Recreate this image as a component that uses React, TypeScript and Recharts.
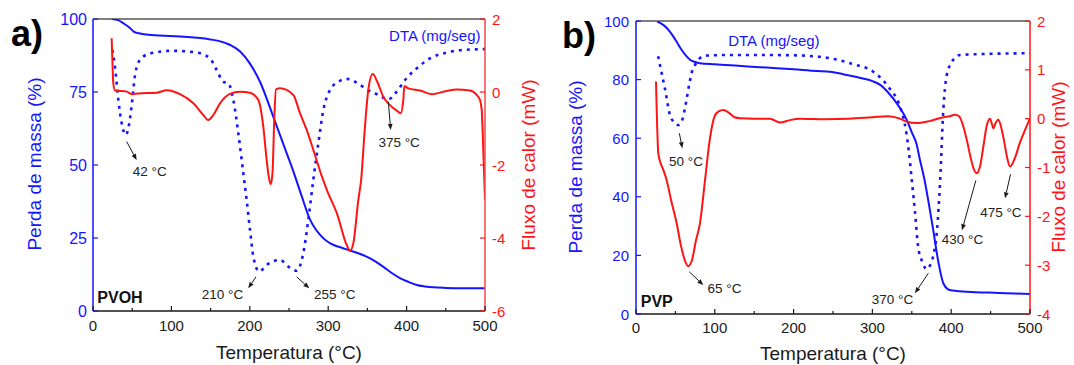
import React from 'react';
import {
  ComposedChart,
  Line,
  XAxis,
  YAxis,
  ReferenceLine,
  ReferenceDot,
} from 'recharts';

const FONT = '"Liberation Sans", Arial, Helvetica, sans-serif';
const BLUE = '#1414ff';
const RED = '#ff1414';
const INK = '#1a1a1a';

// ---------- a) PVOH ----------
const pvohTgaT = [24, 32, 39, 46, 52, 58, 65, 80, 111, 145, 160, 175, 188, 200, 213, 230, 245, 256, 266, 277, 284, 290, 298, 307, 318, 328, 340, 349, 360, 370, 381, 392, 403, 413, 424, 434, 450, 470, 500];
const pvohTgaMass = [100, 99.6, 98.5, 97.2, 95.7, 95.1, 94.8, 94.4, 94.0, 93.2, 92.5, 91.1, 88.8, 84.8, 78.5, 66.5, 55.5, 47.5, 39.5, 31.2, 28, 26, 24, 22.6, 21.6, 20.7, 19.6, 18.6, 17, 15.2, 13, 11.2, 9.9, 8.9, 8.4, 8.1, 7.9, 7.8, 7.8];

const pvohDtaT = [24.7, 28, 32.3, 36.6, 41.7, 46.3, 50.1, 53.6, 60, 72.7, 102.4, 132.3, 149.2, 157.8, 166.2, 172.6, 179, 185.4, 191.7, 196, 200.3, 204.5, 212.1, 221.5, 238.5, 249.1, 259.8, 268.2, 274.6, 281, 287.4, 293.8, 302.3, 312.9, 323.6, 336.4, 349.1, 364, 376.7, 387.4, 398, 412.9, 429.8, 451.1, 472.3, 500];
const pvohDta = [89.4, 83.7, 72.3, 64.3, 60.3, 64.3, 72.3, 80.8, 86, 88.2, 89.1, 88.5, 86.5, 82.5, 78.5, 78, 72.3, 60.8, 47.2, 38, 27.7, 18.6, 13.5, 15.8, 17.5, 15.2, 13.8, 19.8, 31.2, 44.9, 57.4, 68.8, 75.7, 78.5, 79.5, 78.2, 75.9, 74, 72.5, 75.1, 79.1, 83.1, 86.5, 88.5, 89.4, 89.7];

const pvohDscT = [23.8, 24.7, 25.9, 28, 34.4, 43, 49.4, 57.8, 81.2, 94, 111, 128, 140.7, 147, 153.5, 162, 174.7, 187.5, 200.3, 210.9, 217.2, 221.5, 224, 226.8, 229, 231.3, 233.4, 238.5, 255.5, 264, 272.6, 283, 291.7, 299, 311, 323.6, 327.8, 332, 338.4, 342, 346.9, 351.1, 356.8, 362.6, 370.3, 378.8, 387.4, 392.4, 395.8, 397.1, 402.2, 417.1, 432, 451.1, 463.8, 480.9, 489.4, 493.6, 495.8, 497.8, 500];
const pvohDsc = [1.47, 0.88, 0.24, 0.04, 0.03, 0.01, -0.06, -0.04, -0.02, 0.05, -0.06, -0.31, -0.63, -0.77, -0.63, -0.31, -0.05, 0.01, -0.02, -0.22, -0.95, -1.86, -2.3, -2.53, -2.2, -0.68, 0.07, 0.1, -0.08, -0.58, -1.04, -1.72, -2.3, -2.72, -3.32, -4.19, -4.35, -4.15, -2.96, -2.41, -0.95, 0.05, 0.49, 0.28, -0.13, -0.36, -0.51, -0.58, -0.22, 0.16, 0.1, 0.04, -0.06, 0.03, 0.07, 0.04, -0.08, -0.22, -0.49, -1.59, -2.96];

const pvohNotes = ['42 °C', '210 °C', '255 °C', '375 °C'];
const pvohNoteT = [72.3, 165.2, 308.3, 390.5];
const pvohNoteMass = [47.7, 5.5, 5.5, 57.6];
const pvohArrowFromT = [43, 207.9, 259.8, 376.7];
const pvohArrowFromMass = [58, 11.7, 11.7, 71.7];
const pvohArrowToT = [55.7, 198, 275.9, 379.7];
const pvohArrowToMass = [51.7, 7.8, 7.8, 62];

// ---------- b) PVP ----------
const pvpTgaT = [27, 35, 43, 50, 58, 64, 69, 75, 81, 100, 130, 166, 200, 230, 246, 267, 288, 300, 310, 320, 331, 338, 344, 350, 356, 360, 366, 372, 377, 384, 390, 398, 420, 460, 500];
const pvpTgaMass = [99.8, 98.6, 96.4, 93.6, 90.1, 88, 86.7, 86, 85.6, 85.2, 84.7, 84.1, 83.5, 82.9, 82.7, 81.6, 80.4, 79.5, 78.2, 75.6, 71.9, 69, 66, 62, 58, 53, 46, 37, 29, 17.3, 10.5, 8.2, 7.6, 7.2, 6.8];

const pvpDtaT = [28, 32, 37, 43, 48, 54, 59, 64, 68, 71, 76, 81, 90, 120, 160, 200, 246, 275, 301, 320, 335, 341, 346, 350, 354, 358, 363, 369, 373, 377, 382, 386, 390, 394, 401, 411, 450, 500];
const pvpDta = [88, 83, 76.5, 68, 65.5, 64.5, 66.5, 73, 79, 82.7, 85.5, 87.3, 88.2, 88.4, 88.4, 88.3, 87.3, 85.3, 82.7, 77.6, 70.8, 65, 56, 45.7, 35, 23, 18, 15.3, 16.5, 19.6, 28.7, 45.7, 69.6, 81, 86.1, 88.4, 88.8, 89];

const pvpDscT = [25.4, 28.3, 31, 34.7, 38.9, 45, 51.6, 57, 62, 66.4, 71, 76, 81.2, 87.6, 93, 100.3, 105, 110.8, 118, 125, 132, 150, 170, 182.7, 195, 208, 240, 270, 300, 320, 335, 343.5, 356, 372, 390, 398, 405, 410, 415.4, 420, 424, 428, 432.3, 437, 441, 445, 449.2, 451.5, 453.4, 456, 459.8, 463, 467, 471, 474.6, 481, 487, 494, 500];
const pvpDsc = [0.76, -0.71, -0.9, -1.05, -1.26, -1.7, -2.14, -2.6, -2.9, -3.02, -2.9, -2.5, -2.14, -1.26, -0.5, 0.07, 0.15, 0.18, 0.12, 0.03, 0.01, 0.0, 0.0, -0.08, -0.03, 0.0, -0.01, 0.0, 0.03, 0.05, 0.0, -0.06, -0.09, -0.05, 0.03, 0.05, 0.08, 0.05, -0.16, -0.45, -0.75, -1.0, -1.12, -0.95, -0.55, -0.15, 0.0, -0.1, -0.2, -0.1, -0.02, -0.15, -0.45, -0.8, -0.98, -0.8, -0.5, -0.22, 0.0];

const pvpNotes = ['50 °C', '65 °C', '370 °C', '430 °C', '475 °C'];
const pvpNoteT = [63.5, 112.3, 325.5, 414.3, 463];
const pvpNoteMass = [52, 8.8, 4.8, 25.3, 34.7];
const pvpArrowFromT = [55, 67.6, 371, 431.3, 475.3];
const pvpArrowFromMass = [61.7, 14.4, 13.9, 45.6, 47.7];
const pvpArrowToT = [58.8, 85.4, 354, 413.7, 468.3];
const pvpArrowToMass = [56.6, 9.9, 7.1, 28.6, 39.5];

const xTicks = [0, 50, 100, 150, 200, 250, 300, 350, 400, 450, 500];
const pvohMassTicks = [0, 25, 50, 75, 100];
const pvohHeatTicks = [-6, -4, -2, 0, 2];
const pvpMassTicks = [0, 20, 40, 60, 80, 100];
const pvpHeatTicks = [-4, -3, -2, -1, 0, 1, 2];

const zip = (t: number[], v: number[]) => t.map((x, i) => ({ t: x, v: v[i] }));

const MARGIN = 10; // tickMargin used only to find the axis line

const makeXTick = (gap: number) => (p: any) => {
  const axisY = p.y - MARGIN;
  const major = p.payload.value % 100 === 0;
  return (
    <g>
      <line x1={p.x} x2={p.x} y1={axisY} y2={axisY - (major ? 5 : 3)} stroke={INK} strokeWidth={1.2} />
      {major && (
        <text x={p.x} y={axisY + gap} textAnchor="middle" dominantBaseline="central" fontSize={15} fill={INK} fontFamily={FONT}>
          {p.payload.value}
        </text>
      )}
    </g>
  );
};

const makeYTick = (side: 'left' | 'right', color: string, size: number, gap: number) => (p: any) => {
  const axisX = side === 'left' ? p.x + MARGIN : p.x - MARGIN;
  const dir = side === 'left' ? 1 : -1;
  return (
    <g>
      <line x1={axisX} x2={axisX + dir * 5} y1={p.y} y2={p.y} stroke={color} strokeWidth={1.2} />
      <text
        x={axisX - dir * gap}
        y={p.y}
        textAnchor={side === 'left' ? 'end' : 'start'}
        dominantBaseline="central"
        fontSize={size}
        fill={color}
        fontFamily={FONT}
      >
        {p.payload.value}
      </text>
    </g>
  );
};

const Arrow = (p: any) => {
  const { x1, y1, x2, y2 } = p;
  const a = Math.atan2(y2 - y1, x2 - x1);
  const bx = x2 - 6 * Math.cos(a);
  const by = y2 - 6 * Math.sin(a);
  const nx = -Math.sin(a) * 2.4;
  const ny = Math.cos(a) * 2.4;
  return (
    <g>
      <line x1={x1} y1={y1} x2={bx} y2={by} stroke={INK} strokeWidth={1} />
      <polygon points={`${x2},${y2} ${bx + nx},${by + ny} ${bx - nx},${by - ny}`} fill={INK} />
    </g>
  );
};

const noteShape = (text: string, opts: any) => (p: any) => (
  <text
    x={p.cx}
    y={p.cy}
    textAnchor={opts.anchor || 'middle'}
    dominantBaseline="central"
    fontSize={opts.size}
    fontWeight={opts.bold ? 'bold' : 'normal'}
    fill={opts.color}
    fontFamily={FONT}
  >
    {text}
  </text>
);

type PanelProps = {
  width: number;
  height: number;
  top: number;
  leftW: number;
  rightW: number;
  bottomH: number;
  massTicks: number[];
  heatDomain: [number, number];
  heatTicks: number[];
  leftTickSize: number;
  leftGap: number;
  xGap: number;
  rightAxisColor: string;
  tga: { t: number; v: number }[];
  dta: { t: number; v: number }[];
  dsc: { t: number; v: number }[];
  notes: string[];
  noteT: number[];
  noteM: number[];
  fromT: number[];
  fromM: number[];
  toT: number[];
  toM: number[];
  sample: string;
  sampleT: number;
  sampleM: number;
  dtaT: number;
  dtaM: number;
};

const Panel = (c: PanelProps) => (
  <ComposedChart width={c.width} height={c.height} margin={{ top: c.top, right: 0, bottom: 0, left: 0 }}>
    <XAxis
      type="number"
      dataKey="t"
      domain={[0, 500]}
      ticks={xTicks}
      interval={0}
      allowDataOverflow
      height={c.bottomH}
      tickSize={0}
      tickMargin={MARGIN}
      tickLine={false}
      axisLine={{ stroke: INK, strokeWidth: 1.5 }}
      tick={makeXTick(c.xGap)}
    />
    <YAxis
      yAxisId="m"
      type="number"
      domain={[0, 100]}
      ticks={c.massTicks}
      interval={0}
      allowDataOverflow
      width={c.leftW}
      tickSize={0}
      tickMargin={MARGIN}
      tickLine={false}
      axisLine={{ stroke: BLUE, strokeWidth: 1.5 }}
      tick={makeYTick('left', BLUE, c.leftTickSize, c.leftGap)}
    />
    <YAxis
      yAxisId="f"
      orientation="right"
      type="number"
      domain={c.heatDomain}
      ticks={c.heatTicks}
      interval={0}
      allowDataOverflow
      width={c.rightW}
      tickSize={0}
      tickMargin={MARGIN}
      tickLine={false}
      axisLine={{ stroke: c.rightAxisColor, strokeWidth: 1.5 }}
      tick={makeYTick('right', RED, 15, 7)}
    />
    <ReferenceLine yAxisId="m" y={100} stroke="#555" strokeWidth={1.5} />
    <Line
      yAxisId="m"
      data={c.dta}
      dataKey="v"
      type="monotone"
      stroke={BLUE}
      strokeWidth={2.6}
      strokeDasharray="3 5"
      dot={false}
      isAnimationActive={false}
    />
    <Line yAxisId="m" data={c.tga} dataKey="v" type="monotone" stroke={BLUE} strokeWidth={2} dot={false} isAnimationActive={false} />
    <Line yAxisId="f" data={c.dsc} dataKey="v" type="monotone" stroke={RED} strokeWidth={2} dot={false} isAnimationActive={false} />
    {c.notes.map((n, i) => (
      <ReferenceLine
        key={'a' + n}
        yAxisId="m"
        segment={[
          { x: c.fromT[i], y: c.fromM[i] },
          { x: c.toT[i], y: c.toM[i] },
        ]}
        shape={Arrow}
      />
    ))}
    {c.notes.map((n, i) => (
      <ReferenceDot
        key={'n' + n}
        yAxisId="m"
        x={c.noteT[i]}
        y={c.noteM[i]}
        r={0}
        shape={noteShape(n, { size: 13.5, color: '#222' })}
      />
    ))}
    <ReferenceDot
      yAxisId="m"
      x={c.sampleT}
      y={c.sampleM}
      r={0}
      shape={noteShape(c.sample, { size: 16, color: '#111', bold: true, anchor: 'start' })}
    />
    <ReferenceDot
      yAxisId="m"
      x={c.dtaT}
      y={c.dtaM}
      r={0}
      shape={noteShape('DTA (mg/seg)', { size: 15, color: BLUE })}
    />
  </ComposedChart>
);

const title = (x: number, y: number, text: string, color: string) => (
  <text
    x={x}
    y={y}
    transform={`rotate(-90, ${x}, ${y})`}
    textAnchor="middle"
    fontSize={19}
    fill={color}
    fontFamily={FONT}
  >
    {text}
  </text>
);

export default function App() {
  return (
    <div style={{ position: 'absolute', left: 0, top: 0, width: 1074, height: 365, background: '#fff', overflow: 'hidden' }}>
      <div style={{ position: 'absolute', left: 0, top: 0 }}>
        <Panel
          width={540}
          height={365}
          top={19}
          leftW={93}
          rightW={55}
          bottomH={54}
          massTicks={pvohMassTicks}
          heatDomain={[-6, 2]}
          heatTicks={pvohHeatTicks}
          leftTickSize={16}
          leftGap={6}
          xGap={14}
          rightAxisColor="#f04848"
          tga={zip(pvohTgaT, pvohTgaMass)}
          dta={zip(pvohDtaT, pvohDta)}
          dsc={zip(pvohDscT, pvohDsc)}
          notes={pvohNotes}
          noteT={pvohNoteT}
          noteM={pvohNoteMass}
          fromT={pvohArrowFromT}
          fromM={pvohArrowFromMass}
          toT={pvohArrowToT}
          toM={pvohArrowToMass}
          sample="PVOH"
          sampleT={5.5}
          sampleM={4.5}
          dtaT={436}
          dtaM={94.2}
        />
      </div>
      <div style={{ position: 'absolute', left: 540, top: 0 }}>
        <Panel
          width={534}
          height={365}
          top={21}
          leftW={96}
          rightW={44}
          bottomH={51}
          massTicks={pvpMassTicks}
          heatDomain={[-4, 2]}
          heatTicks={pvpHeatTicks}
          leftTickSize={15}
          leftGap={7}
          xGap={13}
          rightAxisColor={RED}
          tga={zip(pvpTgaT, pvpTgaMass)}
          dta={zip(pvpDtaT, pvpDta)}
          dsc={zip(pvpDscT, pvpDsc)}
          notes={pvpNotes}
          noteT={pvpNoteT}
          noteM={pvpNoteMass}
          fromT={pvpArrowFromT}
          fromM={pvpArrowFromMass}
          toT={pvpArrowToT}
          toM={pvpArrowToMass}
          sample="PVP"
          sampleT={6}
          sampleM={4.2}
          dtaT={175}
          dtaM={93.5}
        />
      </div>
      <svg width={1074} height={365} style={{ position: 'absolute', left: 0, top: 0, pointerEvents: 'none' }}>
        <text x={11} y={46} fontSize={36} fontWeight="bold" fill="#000" fontFamily={FONT}>a)</text>
        <text x={562} y={48} fontSize={36} fontWeight="bold" fill="#000" fontFamily={FONT}>b)</text>
        {title(41, 164, 'Perda de massa (%)', BLUE)}
        {title(535, 165, 'Fluxo de calor (mW)', RED)}
        {title(582, 167, 'Perda de massa (%)', BLUE)}
        {title(1065, 167, 'Fluxo de calor (mW)', RED)}
        <text x={289} y={359} textAnchor="middle" fontSize={19} fill={INK} fontFamily={FONT}>Temperatura (°C)</text>
        <text x={833} y={360} textAnchor="middle" fontSize={19} fill={INK} fontFamily={FONT}>Temperatura (°C)</text>
      </svg>
    </div>
  );
}
